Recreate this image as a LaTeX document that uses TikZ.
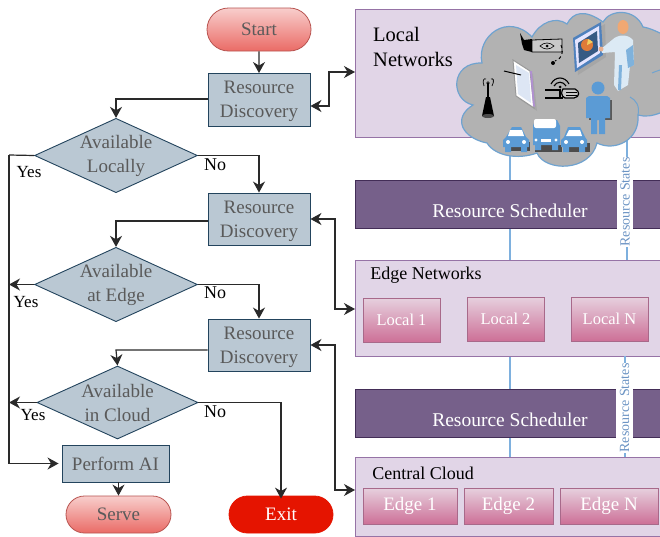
\documentclass[tikz,border=0pt]{standalone}
\usepackage{fontspec}
\setmainfont{Liberation Serif}
\usetikzlibrary{arrows.meta,shapes.geometric,shapes.misc}
\newcommand{\fs}[1]{\fontsize{#1}{#1}\selectfont}
\definecolor{grayblue}{HTML}{BAC8D3}
\definecolor{navy}{HTML}{23445D}
\definecolor{pan}{HTML}{E1D5E7}
\definecolor{panline}{HTML}{9673A6}
\definecolor{sched}{HTML}{76608A}
\definecolor{schedline}{HTML}{432D57}
\definecolor{flowtxt}{HTML}{5A5A5A}
\definecolor{conn}{HTML}{2A2A2A}
\definecolor{bluel}{HTML}{7EB0DE}
\definecolor{cloudf}{HTML}{B2B2B2}
\definecolor{cloudl}{HTML}{6FA3D0}
\definecolor{iconb}{HTML}{5B9BD5}
\definecolor{F8CECC}{HTML}{F8CECC}
\definecolor{EA6B66}{HTML}{EA6B66}
\definecolor{B85450}{HTML}{B85450}
\definecolor{E6D0DE}{HTML}{E6D0DE}
\definecolor{CD7097}{HTML}{CD7097}
\definecolor{B0668A}{HTML}{A8698A}
\definecolor{HTMLstates}{HTML}{6C94C4}
\definecolor{E51400}{HTML}{E51400}
\definecolor{boardb}{HTML}{4F81BD}
\definecolor{pieo}{HTML}{E07B39}
\definecolor{piey}{HTML}{F4D060}
\definecolor{coat}{HTML}{DCEAF5}
\definecolor{coatd}{HTML}{7FB2DC}
\definecolor{skin}{HTML}{F0A873}
\definecolor{skinb}{HTML}{E8B090}
\definecolor{screenc}{HTML}{DDE6F4}
\definecolor{screene}{HTML}{B090D0}
\tikzset{
  x=1pt,y=-1pt,
  flowbox/.style={draw=navy,fill=grayblue,line width=0.9pt,text=flowtxt,align=center,font=\fs{19},inner sep=0pt,minimum width=102pt,minimum height=52pt,text depth=0pt},
  decide/.style={diamond,aspect=2.19,draw=navy,fill=grayblue,line width=0.9pt,text=flowtxt,align=center,font=\fs{19},inner sep=0pt,minimum width=160pt,minimum height=73pt},
  term/.style={rounded rectangle,draw=#1,minimum width=104pt,inner sep=0pt,font=\fs{19},line width=0.8pt},
  redterm/.style={term=B85450,top color=F8CECC,bottom color=EA6B66,text=flowtxt},
  panel/.style={draw=panline,fill=pan,line width=0.9pt,inner sep=0pt,anchor=north west},
  schedbox/.style={draw=schedline,fill=sched,line width=0.9pt,inner sep=0pt,anchor=north west},
  pinkbox/.style={draw=B0668A,top color=E6D0DE,bottom color=CD7097,line width=0.8pt,text=white,inner sep=0pt},
  flow/.style={draw=conn,line width=1.2pt,-{Stealth[length=11pt,width=12pt,inset=3.5pt]}},
  plainflow/.style={draw=conn,line width=1.2pt},
  both/.style={draw=conn,line width=1.2pt,{Stealth[length=11pt,width=12pt,inset=3.5pt]}-{Stealth[length=11pt,width=12pt,inset=3.5pt]}},
  lab/.style={font=\fs{18},text=black,inner sep=0pt},
  bline/.style={draw=bluel,line width=1.2pt},
  states/.style={rotate=90,fill=white,text=HTMLstates,font=\fs{14},inner sep=0pt,minimum height=16pt,minimum width=90pt},
}
\begin{document}
\begin{tikzpicture}
\useasboundingbox (0,0) rectangle (660,536);
\fill[white] (0,0) rectangle (660,536);
\clip (0,0) rectangle (660,536);

% panels
\node[panel,minimum width=320pt,minimum height=128pt] (localp) at (355,9) {};
\node[schedbox,minimum width=320pt,minimum height=48pt] (sch1) at (355,180) {};
\node[panel,minimum width=320pt,minimum height=96pt] (edgep) at (355,260) {};
\node[schedbox,minimum width=320pt,minimum height=48pt] (sch2) at (355,389) {};
\node[panel,minimum width=320pt,minimum height=79pt] (cloudp) at (355,457) {};

\node[font=\fs{20.5},align=left,inner sep=0pt,anchor=north west] (localt) at (373,27) {Local\\[5pt]Networks};
\node[font=\fs{18},inner sep=0pt] (edget) at (426,275) {Edge Networks};
\node[font=\fs{18},inner sep=0pt] (cloudt) at (423,473) {Central Cloud};
\node[font=\fs{19.5},text=white,inner sep=0pt] (sch1t) at (510,211) {Resource Scheduler};
\node[font=\fs{19.5},text=white,inner sep=0pt] (sch2t) at (510,420) {Resource Scheduler};

\node[pinkbox,minimum width=77pt,minimum height=44pt,font=\fs{16.5}] (l1) at (401.5,320) {Local 1};
\node[pinkbox,minimum width=77pt,minimum height=44pt,font=\fs{16.5}] (l2) at (505.5,319) {Local 2};
\node[pinkbox,minimum width=77pt,minimum height=44pt,font=\fs{16.5}] (ln) at (609.5,319) {Local N};
\node[pinkbox,minimum width=94pt,minimum height=36pt,font=\fs{19}] (e1) at (410,506) {Edge 1};
\node[pinkbox,minimum width=89pt,minimum height=36pt,font=\fs{19}] (e2) at (508.5,506) {Edge 2};
\node[pinkbox,minimum width=98pt,minimum height=36pt,font=\fs{19}] (en) at (609,506) {Edge N};

% blue links
\coordinate (cb) at (510,150);
\coordinate (cr) at (627,130);
\draw[bline] (cb) -- (cb |- sch1.north);
\draw[bline] (cb |- sch1.south) -- (cb |- edgep.north);
\draw[bline] (cb |- edgep.south) -- (cb |- sch2.north);
\draw[bline] (cb |- sch2.south) -- (cb |- cloudp.north);
\draw[bline] (cr) -- (cr |- edgep.north);
\coordinate (cr2) at (625,356);
\draw[bline] (cr2) -- (cr2 |- cloudp.north);
\fill[white] (616.5,179) rectangle (633,229);
\fill[white] (616,388) rectangle (633,438);
\node[states,minimum height=16pt] (st1) at (625,202) {Resource States};
\node[states,minimum height=17pt] (st2) at (624.5,408) {Resource States};

% cloud
\draw[draw=cloudl,fill=cloudf,line width=1.2pt]
  (482,63) .. controls (476,36) and (508,12) .. (532,37)
  .. controls (540,22) and (556,16) .. (567,24)
  .. controls (573,12) and (585,9) .. (603,22)
  .. controls (610,9) and (635,8) .. (643,27)
  .. controls (650,28) and (658,32) .. (668,37)
  -- (668,113)
  -- (660,113)
  .. controls (652,116) and (645,117) .. (638,115)
  .. controls (640,140) and (615,152) .. (597,143)
  .. controls (590,172) and (545,172) .. (537,153)
  .. controls (518,160) and (495,156) .. (487,143)
  .. controls (462,138) and (452,118) .. (473,105)
  .. controls (450,100) and (450,62) .. (482,63) -- cycle;
\draw[cloudl,line width=1pt] (630,97) .. controls (636,100) and (640,106) .. (638,115);
\draw[cloudl,line width=1pt] (652,73) .. controls (654,72) and (657,71) .. (660,70);

% camera
\fill[black] (520,33) -- (524,40) -- (532,39) -- (532,52) -- (524,50) -- (522,44) -- cycle;
\draw[black,fill=cloudf!70!white,line width=0.8pt] (532,40) -- (562,39) -- (562,52) -- (532,52) -- cycle;
\draw[black,line width=0.6pt] (540,46) .. controls (544,42) and (550,42) .. (554,46) .. controls (550,50) and (544,50) .. (540,46) -- cycle;
\fill[black] (547,46) circle (1.5);
\draw[black,line width=1pt,dashed] (561,45) .. controls (564,54) and (562,58) .. (555,61);
\fill[black] (553,63) circle (2);
% board
\fill[gray!70] (576,40) -- (605,24) -- (606,57) -- (578,75) -- cycle;
\fill[boardb] (573,38) -- (601,22) -- (603,55) -- (575,72) -- cycle;
\fill[white!90!blue] (575,40) -- (599,26) -- (600,53) -- (577,68) -- cycle;
\fill[boardb!70!black] (578,43) -- (597,31) -- (598,51) -- (579,63) -- cycle;
\fill[pieo] (587,45) circle (6);
\fill[piey] (587,45) -- (588,39) -- (593,42) -- cycle;
% presenter
\fill[gray!60] (612,85) -- (630,88) -- (620,93) -- cycle;
\fill[coat] (612,40) .. controls (618,34) and (628,34) .. (633,40) -- (634,65) -- (630,66) -- (628,85) -- (618,91) -- (614,85) -- (615,52) -- (602,53) -- (601,49) -- cycle;
\fill[coatd] (619,65) -- (622,65) -- (621,90) -- (618,90) -- cycle;
\fill[coatd] (626,50) -- (633,45) -- (634,65) -- (628,68) -- cycle;
\fill[skin] (623,27) ellipse (5.5 and 7);
\fill[skinb] (601,49) circle (2.5);
% tablet
\fill[gray!70] (516,63) -- (533,74) -- (537,111) -- (519,99) -- cycle;
\draw[gray!80,fill=white,line width=1pt] (513,60) -- (530,71) -- (534,108) -- (516,96) -- cycle;
\fill[screenc] (516,65) -- (529,73) -- (531,103) -- (518,94) -- cycle;
\fill[screene] (530,71) -- (532,71) -- (535,107) -- (533,106) -- cycle;
\draw[black,line width=1pt] (504,71) -- (521,75);
% tower
\fill[black] (486,97) -- (490,97) -- (494,116) -- (482,116) -- cycle;
\fill[black!70] (488,116) ellipse (6 and 2);
\draw[gray!20!black,line width=0.8pt] (484,86) .. controls (482,80) and (484,78) .. (486,79);
\draw[gray!20!black,line width=0.8pt] (492,86) .. controls (495,80) and (493,78) .. (491,79);
\fill[black!80] (488,83) circle (1.8);
\draw[black,line width=1.4pt] (488,83) -- (488,97);
% hand wifi
\draw[black,line width=1.1pt] (551,84) .. controls (555,76) and (565,76) .. (569,84);
\draw[black,line width=1.1pt] (554,86) .. controls (557,81) and (563,81) .. (566,86);
\fill[black] (560,87) circle (1.5);
\draw[black,line width=1.4pt] (545,90) -- (561,90) (560,90) -- (560,98) (545,98) -- (563,98);
\draw[black,fill=cloudf!70!white,line width=1.2pt] (563,89) -- (575,89) .. controls (580,91) and (580,97) .. (574,98) -- (565,98) .. controls (561,96) and (561,92) .. (563,89) -- cycle;
\draw[black,line width=1pt] (566,92) -- (577,92) (566,95) -- (577,95);
% blue person
\fill[gray!70!black] (589,100) rectangle (612,120);
\fill[iconb] (598,88) circle (6.5);
\fill[iconb] (589,96) -- (607,96) -- (610,98) -- (610,118) -- (605,118) -- (605,134) -- (599,134) -- (599,120) -- (597,120) -- (597,134) -- (591,134) -- (591,118) -- (586,118) -- (586,98) -- cycle;
% cars
\fill[gray!60!black] (505,142) rectangle (530,151);
\fill[iconb] (512,127) -- (521,127) -- (526,137) -- (529,140) -- (529,147) -- (503,147) -- (503,140) -- (506,137) -- cycle;
\fill[white] (510,130) -- (522,130) -- (524,136) -- (508,136) -- cycle;
\fill[white] (508,142) circle (2) (524,142) circle (2);
\fill[iconb] (505,147) rectangle (511,152) (521,147) rectangle (527,152);
%
\fill[gray!60!black] (535,145) rectangle (562,152);
\fill[iconb] (535,120) -- (557,120) -- (560,126) -- (560,145) -- (533,145) -- (533,126) -- cycle;
\fill[white,rounded corners=2pt] (534,119) rectangle (556,128);
\fill[white] (536,140) circle (1.6) (556,140) circle (1.6);
\fill[white] (541,138.5) rectangle (551,141.5);
\fill[iconb] (535,145) rectangle (541,150) (552,145) rectangle (558,150);
%
\fill[gray!60!black] (563,143) rectangle (590,152);
\fill[iconb] (568,127) -- (580,127) -- (585,137) -- (587,140) -- (587,147) -- (561,147) -- (561,140) -- (564,137) -- cycle;
\fill[white] (569,130) -- (580,130) -- (582,136) -- (566,136) -- cycle;
\fill[white] (566,142) circle (2) (582,142) circle (2);
\fill[iconb] (563,147) rectangle (569,152) (579,147) rectangle (585,152);

% flowchart
\node[redterm,minimum height=43pt] (start) at (259,29.5) {\raisebox{1pt}{Start}};
\node[flowbox,minimum height=52.5pt] (rd1) at (259,99.75) {\raisebox{1pt}{Resource}\\[4pt]Discovery};
\node[decide] (d1) at (116,155.5) {\raisebox{1pt}{Available}\\[4pt]Locally};
\node[flowbox,minimum height=52.5pt] (rd2) at (259,219.25) {\raisebox{1pt}{Resource}\\[4pt]Discovery};
\node[decide] (d2) at (116,284.5) {\raisebox{1pt}{Available}\\[4pt]at Edge};
\node[flowbox,minimum height=52pt] (rd3) at (259,345) {\raisebox{1pt}{Resource}\\[4pt]Discovery};
\node[decide,minimum width=161pt] (d3) at (117.5,402.5) {\raisebox{1pt}{Available}\\[4pt]in Cloud};
\node[flowbox,minimum width=107pt,minimum height=37pt] (ai) at (115.5,463.5) {Perform AI};
\node[redterm,minimum width=105pt,minimum height=37pt] (serve) at (118.5,514.5) {\raisebox{1pt}{Serve}};
\node[term=E51400,fill=E51400,text=white,minimum width=104pt,minimum height=37pt] (exit) at (281,514.5) {\raisebox{1pt}{Exit}};

\coordinate (rail) at (9,155);
\coordinate (n1) at (116,99);
\coordinate (n2) at (116,221);
\coordinate (n3) at (116,350);

\draw[flow] (start) -- (rd1);
\draw[flow] (rd1.west |- n1) -- (n1) -- (d1.north);
\draw[flow] (d1.east) -| (rd2.north);
\draw[flow] (rd2.west |- n2) -- (n2) -- (d2.north);
\draw[flow] (d2.east) -| (rd3.north);
\draw[flow] (rd3.west |- n3) -- (n3) -- (d3.north);
\draw[flow] (d3.east) -| ([yshift=-3pt]exit.north);
\draw[flow] (ai.south -| serve.north) -- (serve.north);
\draw[plainflow] (d1.west) -- (rail);
\draw[flow] (rail) |- ([xshift=-3pt]ai.west);
\draw[flow] (d2.west) -- (rail |- d2.west);
\draw[flow] (d3.west) -- (rail |- d3.west);

\coordinate (b1) at (329,106);
\coordinate (b2) at (335,219);
\coordinate (b3) at (335,345);
\draw[both] (rd1.east |- b1) -- (b1) -- (b1 |- 0,72) -- (localp.west |- 0,72);
\draw[both] (rd2.east |- b2) -- (b2) -- (b2 |- 0,309) -- (edgep.west |- 0,309);
\draw[both] (rd3.east |- b3) -- (b3) -- (b3 |- 0,490) -- (cloudp.west |- 0,490);

\node[lab,font=\fs{17}] (y1) at (29,172) {Yes};
\node[lab,font=\fs{17}] (y2) at (26,302) {Yes};
\node[lab,font=\fs{17}] (y3) at (33,415) {Yes};
\node[lab] (no1) at (215,165) {No};
\node[lab] (no2) at (215,293) {No};
\node[lab] (no3) at (215,412) {No};
\end{tikzpicture}
\end{document}
